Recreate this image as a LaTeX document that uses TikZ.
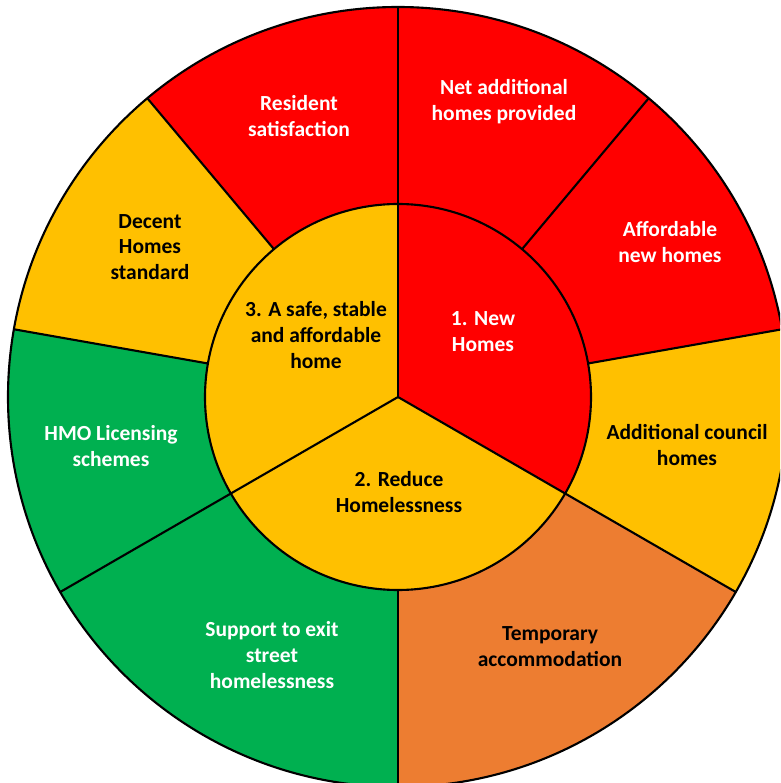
\documentclass[tikz,border=0pt]{standalone}
\usepackage{fontspec}
\setmainfont{Carlito}
\usepackage{xcolor}
\usepackage{tikz}
\usetikzlibrary{positioning}

\definecolor{hred}{RGB}{255,0,0}
\definecolor{hamber}{RGB}{255,192,0}
\definecolor{hgreen}{RGB}{0,176,80}
\definecolor{horange}{RGB}{237,125,49}

\begin{document}
\begin{tikzpicture}[
  edge/.style={draw=black, line width=1.5pt},
  lbl/.style={align=center, font=\fontsize{15.3}{18.4}\selectfont\bfseries, inner sep=0pt},
  light/.style={lbl, text=white},
  dark/.style={lbl, text=black}
]
  \useasboundingbox (-9.95,-9.65) rectangle (9.55,9.925);
  \clip (-9.95,-9.65) rectangle (9.55,9.925);

  % outer ring
  \foreach \a/\b/\c in {50/90/hred, 10/50/hred, -30/10/hamber, -90/-30/horange,
                        210/270/hgreen, 170/210/hgreen, 130/170/hamber, 90/130/hred}
    \fill[\c] (\a:4.825) -- (\a:9.75) arc[start angle=\a, end angle=\b, radius=9.75]
      -- (\b:4.825) arc[start angle=\b, end angle=\a, radius=4.825] -- cycle;
  \foreach \a in {90,50,10,-30,-90,210,170,130}
    \draw[edge] (\a:4.825) -- (\a:9.75);
  \draw[edge] (0,0) circle[radius=9.75];

  % inner disc
  \fill[hred] (0,0) -- (-30:4.825) arc[start angle=-30, end angle=90, radius=4.825] -- cycle;
  \fill[hamber] (0,0) -- (90:4.825) arc[start angle=90, end angle=210, radius=4.825] -- cycle;
  \fill[hamber] (0,0) -- (210:4.825) arc[start angle=210, end angle=330, radius=4.825] -- cycle;
  \foreach \a in {90,210,330}
    \draw[edge] (0,0) -- (\a:4.825);
  \draw[edge] (0,0) circle[radius=4.825];

  \node[light] (newhomes) at (2.125,1.625) {1. New\\Homes};
  \node[dark] (reduce) at (0.025,-2.375) {2. Reduce\\Homelessness};
  \node[dark] (safe) at (-2.05,1.55) {3. A safe, stable\\and affordable\\home};

  \node[light] (netadd) at (2.65,7.375) {Net additional\\homes provided};
  \node[light] (afford) at (6.8,3.875) {Affordable\\new homes};
  \node[dark] (council) at (7.225,-1.2) {Additional council\\homes};
  \node[dark] (temp) at (3.8,-6.25) {Temporary\\accommodation};
  \node[light] (street) at (-3.15,-6.45) {Support to exit\\street\\homelessness};
  \node[light] (hmo) at (-7.175,-1.225) {HMO Licensing\\schemes};
  \node[dark] (decent) at (-6.2,3.75) {Decent\\Homes\\standard};
  \node[light] (resident) at (-2.475,7.025) {Resident\\satisfaction};
\end{tikzpicture}
\end{document}
